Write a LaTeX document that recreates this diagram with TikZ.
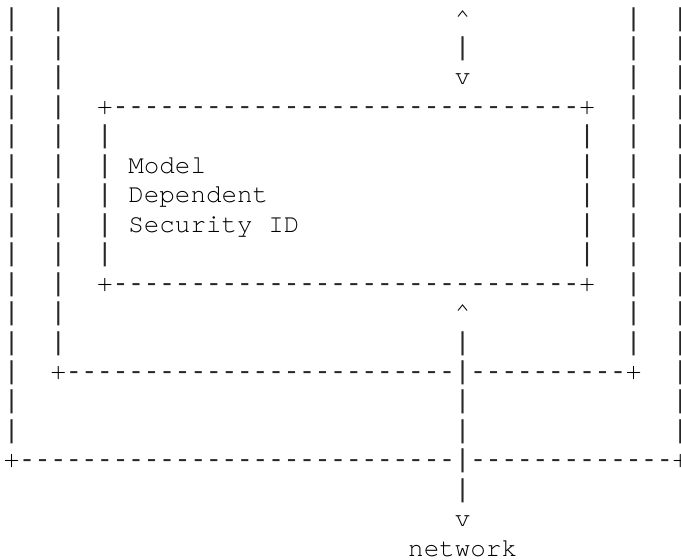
\documentclass[tikz,border=0pt]{standalone}
\usepackage{fontspec}
\setmonofont{texgyrecursor}[Extension=.otf, UprightFont=*-regular]
\newfontfamily\linemono{Liberation Mono}
\usepackage{tikz}
\newcommand{\asciifont}{\linemono\fontsize{25.92pt}{30pt}\selectfont}
\newcommand{\courierfont}{\ttfamily\fontsize{25.92pt}{30pt}\selectfont}
\tikzset{glyph/.style={anchor=base west, inner sep=0pt, outer sep=0pt, font=\asciifont, text=black!85},
  word/.style={glyph, font=\courierfont, text=black},
  corner/.style={word, font=\bfseries\courierfont}}

\begin{document}
\begin{tikzpicture}[x=15.55pt, y=-29.45pt]
\useasboundingbox (-3.9pt,26.05pt) rectangle (677.1pt,-533.95pt);
% outer frame
\foreach \r in {0,...,14} {\node[glyph] (outL\r) at (0,\r) {|}; \node[glyph] (outR\r) at (43,\r) {|};}
\node[corner] (outBL) at (0,15) {+};
\foreach \c in {1,...,28} \node[glyph] (outB\c) at (\c,15) {-};
\foreach \c in {30,...,42} \node[glyph] (outB\c) at (\c,15) {-};
\node[corner] (outBR) at (43,15) {+};
% middle frame
\foreach \r in {0,...,11} {\node[glyph] (midL\r) at (3,\r) {|}; \node[glyph] (midR\r) at (40,\r) {|};}
\node[corner] (midBL) at (3,12) {+};
\foreach \c in {4,...,28} \node[glyph] (midB\c) at (\c,12) {-};
\foreach \c in {30,...,39} \node[glyph] (midB\c) at (\c,12) {-};
\node[corner] (midBR) at (40,12) {+};
% security id box
\foreach \r in {3,9} {\node[corner] (idL\r) at (6,\r) {+}; \node[corner] (idR\r) at (37,\r) {+};
  \foreach \c in {7,...,36} \node[glyph] (id\r x\c) at (\c,\r) {-};}
\foreach \r in {4,...,8} {\node[glyph] (idL\r) at (6,\r) {|}; \node[glyph] (idR\r) at (37,\r) {|};}
\node[word] (model) at (8,5) {Model};
\node[word] (dependent) at (8,6) {Dependent};
\node[word] (secid) at (8,7) {Security ID};
% arrows
\node[word] (upT) at (29,0) {\textasciicircum};
\node[glyph] (barT) at (29,1) {|};
\node[word] (downT) at (29,2) {v};
\node[word] (upB) at (29,10) {\textasciicircum};
\foreach \r in {11,...,16} \node[glyph] (barB\r) at (29,\r) {|};
\node[word] (downB) at (29,17) {v};
\node[word] (network) at (26,18) {network};
\end{tikzpicture}
\end{document}
